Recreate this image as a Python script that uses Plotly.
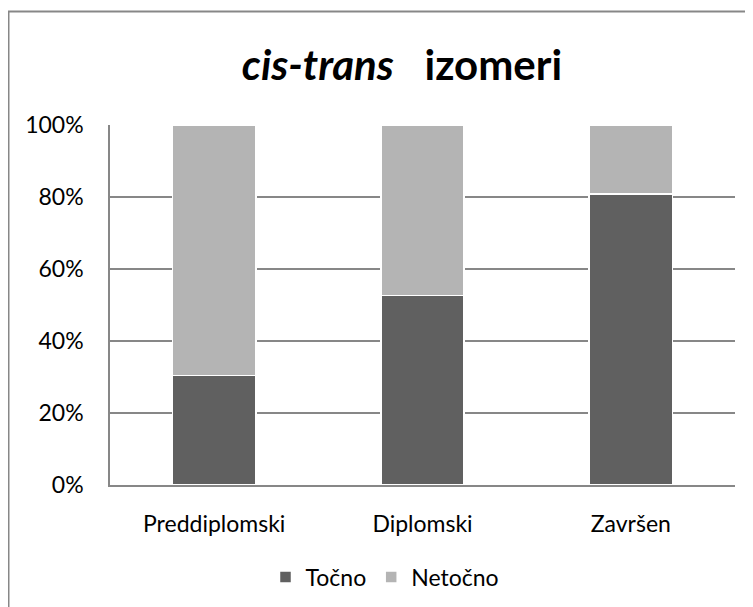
import plotly.graph_objects as go

categories = ["Preddiplomski", "Diplomski", "Završen"]
tocno = [30.4, 52.7, 80.9]
netocno = [69.6, 47.3, 19.1]
tick_vals = [0, 20, 40, 60, 80, 100]
tick_text = ["0%", "20%", "40%", "60%", "80%", "100%"]

DARK = "#606060"
LIGHT = "#b4b4b4"
GRID = "#878787"
FONT = "Lato, Carlito, Calibri, sans-serif"

# page body adds an 8px offset; figure is sized to fit the remaining window
W, H = 745, 599
L, R, T, B = 102, 18, 117, 122
PW, PH = W - L - R, H - T - B

fig = go.Figure()
fig.add_trace(go.Bar(name="Točno", x=categories, y=tocno,
                     marker=dict(color=DARK, line=dict(color="white", width=1.5))))
fig.add_trace(go.Bar(name="Netočno", x=categories, y=netocno,
                     marker=dict(color=LIGHT, line=dict(color="white", width=1.5))))

fig.update_layout(
    barmode="stack",
    bargap=0.6,
    width=W, height=H,
    margin=dict(l=L, r=R, t=T, b=B, autoexpand=False),
    paper_bgcolor="white", plot_bgcolor="white",
    font=dict(family=FONT, size=23, color="black"),
    title=dict(text="<b><i>cis-trans</i>&nbsp;&nbsp; izomeri</b>", x=394 / W, xanchor="center",
               y=1 - 57 / H, yanchor="middle", yref="container",
               font=dict(family=FONT, size=42, color="black")),
    legend=dict(orientation="h", x=(377 - L) / PW, xanchor="center",
                y=(PH + T - 569) / PH, yanchor="middle",
                font=dict(family=FONT, size=23), traceorder="normal"),
    xaxis=dict(showline=True, linecolor=GRID, linewidth=1.5, ticks="",
               ticklabelstandoff=18, tickfont=dict(family=FONT, size=23)),
    yaxis=dict(range=[0, 100], tickvals=tick_vals, ticktext=tick_text,
               showgrid=True, gridcolor=GRID, gridwidth=1.5,
               showline=True, linecolor=GRID, linewidth=1.5, ticks="",
               ticklabelstandoff=20, zeroline=False,
               tickfont=dict(family=FONT, size=23)),
    shapes=[dict(type="rect", xref="paper", yref="paper",
                 x0=(0.5 - L) / PW, x1=(W + 20 - L) / PW,
                 y0=(T + PH - (H + 20)) / PH, y1=(T + PH - 3.5) / PH,
                 line=dict(color=GRID, width=2), layer="below")],
)

fig.write_html("out.html")
